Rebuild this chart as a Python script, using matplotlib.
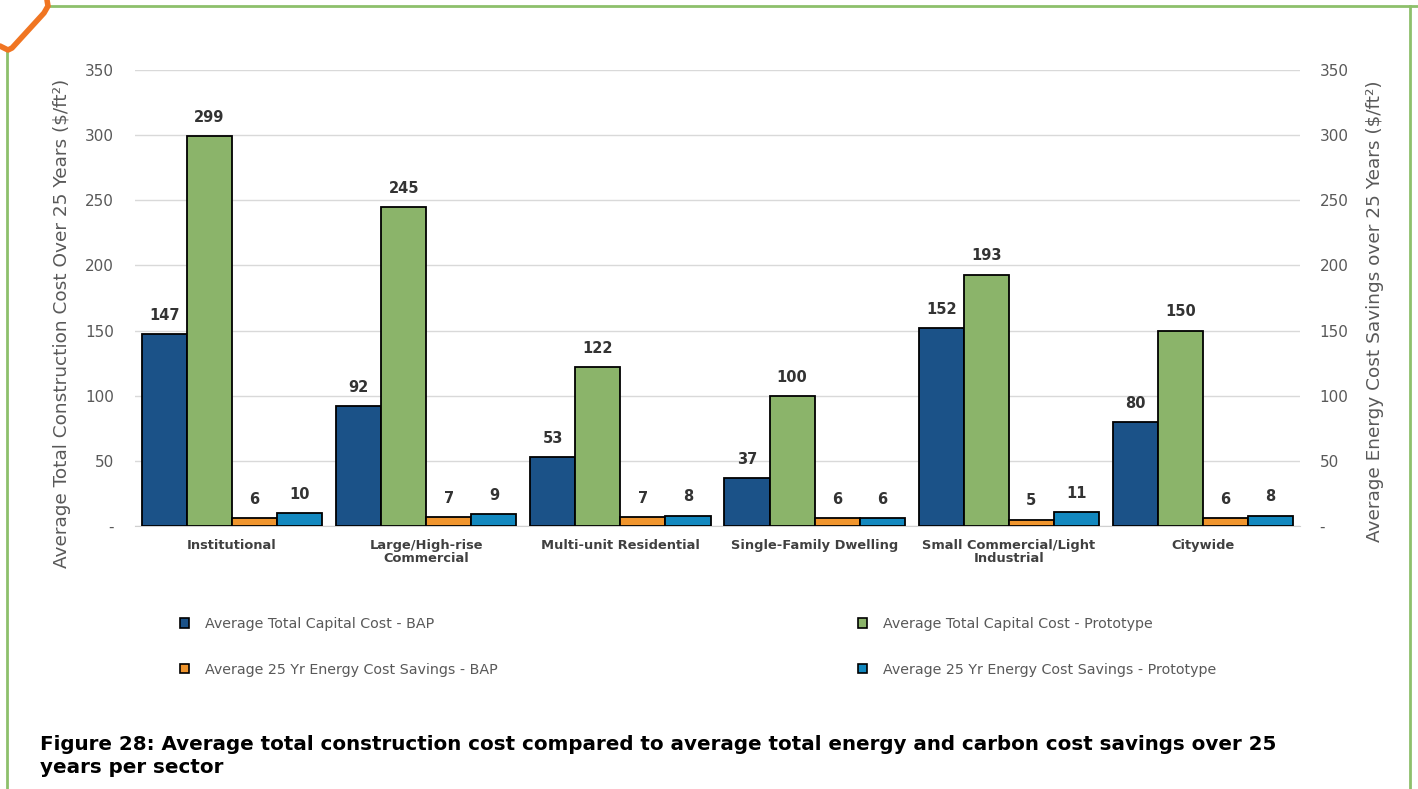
import matplotlib
matplotlib.use('Agg')
import matplotlib.pyplot as plt
import numpy as np
from matplotlib.patches import Patch
from matplotlib.lines import Line2D
from matplotlib.ticker import FuncFormatter

sectors = ['Institutional', 'Large/High-rise\nCommercial', 'Multi-unit Residential',
           'Single-Family Dwelling', 'Small Commercial/Light\nIndustrial', 'Citywide']
capital_bap = [147, 92, 53, 37, 152, 80]
capital_proto = [299, 245, 122, 100, 193, 150]
savings_bap = [6, 7, 7, 6, 5, 6]
savings_proto = [10, 9, 8, 6, 11, 8]

series_names = ['Average Total Capital Cost - BAP',
                'Average Total Capital Cost - Prototype',
                'Average 25 Yr Energy Cost Savings - BAP',
                'Average 25 Yr Energy Cost Savings - Prototype']
colors = ['#1b5288', '#8bb46a', '#f0952d', '#1288bf']
y_ticks = [0, 50, 100, 150, 200, 250, 300, 350]

grey = '#595959'

fig = plt.figure(figsize=(14.18, 7.89), dpi=100)
ax = fig.add_axes([0.0952, 0.3333, 0.8216, 0.578])

x = np.arange(len(sectors))
w = 0.232
offsets = [-1.5 * w, -0.5 * w, 0.5 * w, 1.5 * w]
series = [capital_bap, capital_proto, savings_bap, savings_proto]
for vals, off, col in zip(series, offsets, colors):
    bars = ax.bar(x + off, vals, w, color=col, edgecolor='black', linewidth=1.3, zorder=3)
    for b, v in zip(bars, vals):
        ax.annotate(str(v), (b.get_x() + b.get_width() / 2, v), xytext=(0, 8),
                    textcoords='offset points', ha='center', va='bottom',
                    fontsize=10.5, fontweight='bold', color='#333333')

ax.set_xlim(-0.5, len(sectors) - 0.5)
ax.set_ylim(0, 350)
ax.set_yticks(y_ticks)
fmt = FuncFormatter(lambda v, p: '-' if v == 0 else f'{int(v)}')
ax.yaxis.set_major_formatter(fmt)
ax.grid(axis='y', color='#d9d9d9', linewidth=1, zorder=0)
for s in ['top', 'right', 'left']:
    ax.spines[s].set_visible(False)
ax.spines['bottom'].set_color('#d0d0d0')
ax.tick_params(axis='y', length=0, pad=15, labelsize=11, labelcolor=grey)
ax.set_xticks(x)
ax.set_xticklabels(sectors, fontsize=9.4, fontweight='bold', color='#404040', linespacing=1.05)
ax.tick_params(axis='x', length=0, pad=9)
ax.set_ylabel('Average Total Construction Cost Over 25 Years ($/ft²)',
              fontsize=13.3, color=grey, labelpad=10, y=0.445)

ax2 = ax.twinx()
ax2.set_ylim(0, 350)
ax2.set_yticks(y_ticks)
ax2.yaxis.set_major_formatter(fmt)
for s in ax2.spines.values():
    s.set_visible(False)
ax2.tick_params(axis='y', length=0, pad=14, labelsize=11, labelcolor=grey)
ax2.set_ylabel('Average Energy Cost Savings over 25 Years ($/ft²)',
               fontsize=13.3, color=grey, labelpad=12.5, y=0.47)

handles = [Patch(facecolor=c, edgecolor='black', linewidth=1.2) for c in colors]
leg_kw = dict(frameon=False, handlelength=0.65, handleheight=0.65, handletextpad=1.1,
              labelspacing=2.2, fontsize=10.3, labelcolor=grey, loc='upper left', borderaxespad=0)
fig.legend([handles[0], handles[2]], [series_names[0], series_names[2]],
           bbox_to_anchor=(0.123, 0.225), **leg_kw)
fig.legend([handles[1], handles[3]], [series_names[1], series_names[3]],
           bbox_to_anchor=(0.601, 0.225), **leg_kw)

fig.text(0.028, 0.068,
         'Figure 28: Average total construction cost compared to average total energy and carbon cost savings over 25\nyears per sector',
         fontsize=14.3, fontweight='bold', color='black', ha='left', va='top', linespacing=1.27)

# page frame and corner marker
W, H = 1418, 789
green = '#8dc06b'
fig.add_artist(Line2D([50 / W, 1], [1 - 6 / H] * 2, color=green, lw=2, transform=fig.transFigure))
fig.add_artist(Line2D([7 / W] * 2, [0, 1 - 50 / H], color=green, lw=2, transform=fig.transFigure))
fig.add_artist(Line2D([1410 / W] * 2, [0, 1 - 6 / H], color=green, lw=2, transform=fig.transFigure))
cx = [0, 8, 12, 44, 48, 47]
cy = [46, 50, 48, 13, 6, 0]
fig.add_artist(Line2D([v / W for v in cx], [1 - v / H for v in cy], color='#f07522', lw=4,
                      solid_capstyle='round', solid_joinstyle='round', transform=fig.transFigure))

fig.savefig('out.png', dpi=100, facecolor='white')
